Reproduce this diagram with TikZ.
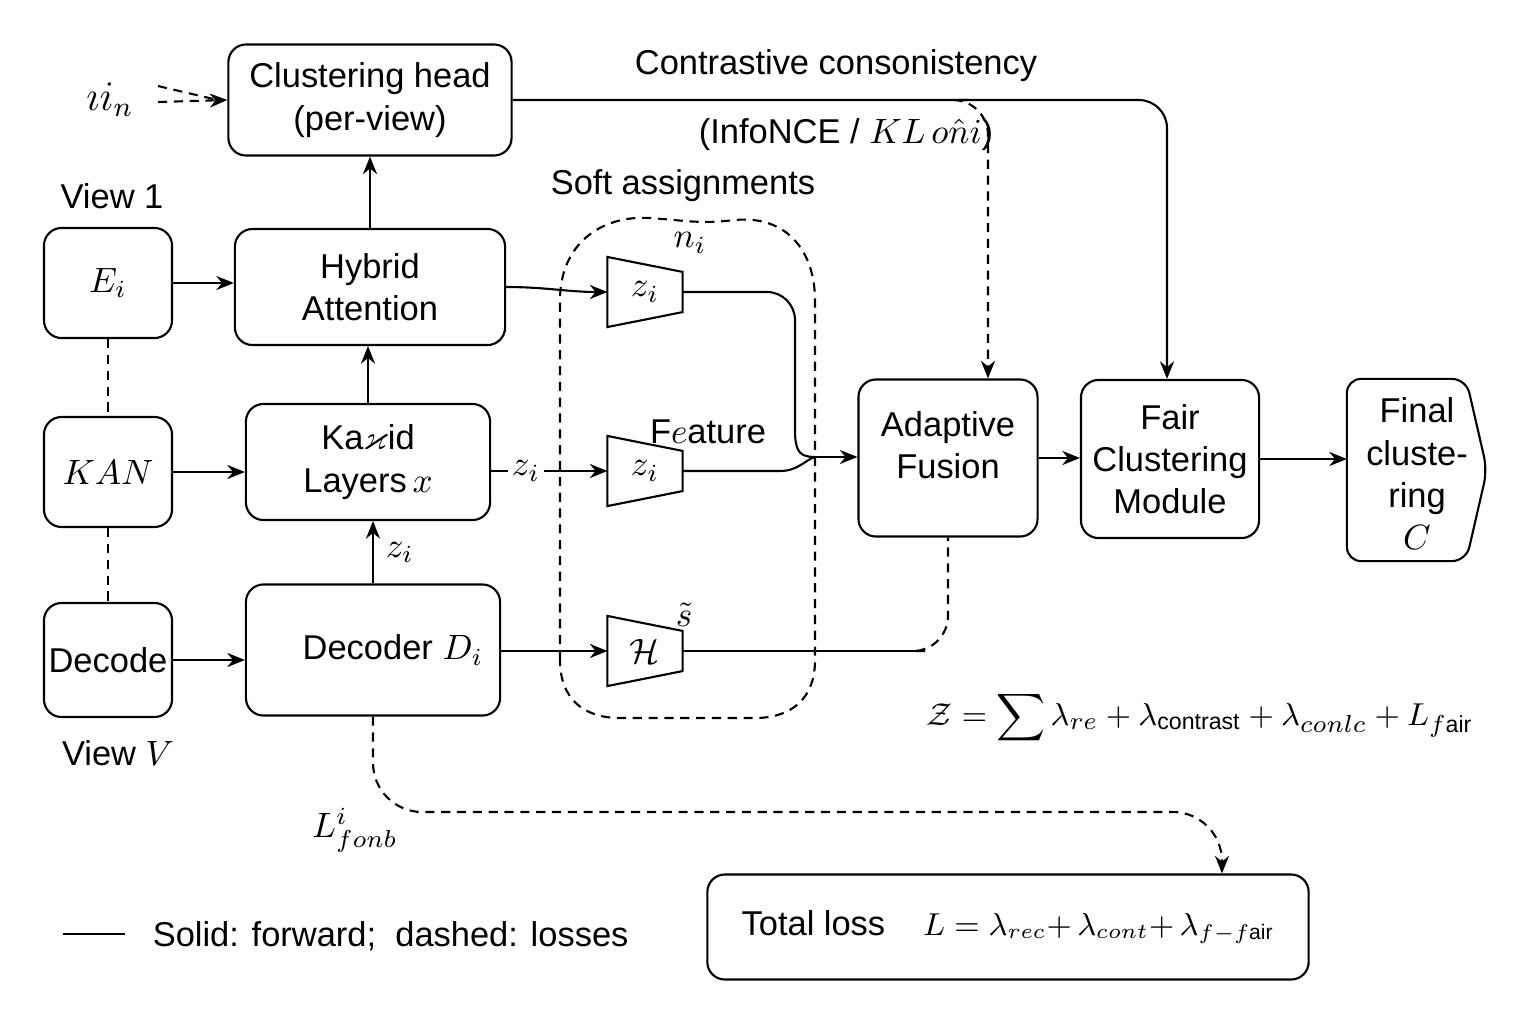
\documentclass[tikz,border=0pt]{standalone}
\usepackage{amsmath}
\usepackage{amssymb}
\usepackage{fontspec}
\setmainfont{Liberation Sans}
\usepackage{tikz}
\usetikzlibrary{calc}
\usetikzlibrary{arrows.meta}

\begin{document}
\begin{tikzpicture}[x=0.01cm, y=-0.01cm, color=black, line width=0.6pt, font=\fontsize{9.8}{12}\selectfont,
		blk/.style={draw, rounded corners=5pt, align=center, inner sep=0pt},
		fwd/.style={-{Stealth[length=5pt,width=4pt]}},
		loss/.style={dash pattern=on 2.6pt off 1.9pt},
		lossarr/.style={loss, -{Stealth[length=5pt,width=4pt]}},
		trap/.style={minimum width=0.73cm, minimum height=0.68cm, inner sep=0pt}]
		\useasboundingbox (0,0) rectangle (1536,1024);
		
		\node[blk, minimum width=2.83cm, minimum height=1.11cm] (head) at (370,100) {Clustering head\\(per-view)};
		\node[blk, minimum width=2.70cm, minimum height=1.16cm] (hyb) at (370,287) {Hybrid\\Attention};
		\node[blk, minimum width=2.44cm, minimum height=1.16cm] (kan) at (368,462) {Ka$\varkappa$id\\Layers\,$x$};
		\node[blk, minimum width=2.54cm, minimum height=1.31cm] (dec) at (373,650) {\hspace*{0.4cm}Decoder $D_i$};
		\node[blk, minimum width=1.28cm, minimum height=1.10cm] (enc) at (108,283) {$E_i$};
		\node[blk, minimum width=1.28cm, minimum height=1.10cm] (kanin) at (108,472) {$KAN$};
		\node[blk, minimum width=1.28cm, minimum height=1.14cm] (decin) at (108,660) {Decode};
		\node (v1) at (112,196) {View 1};
		\node (vv) at (118,753) {View $V$};
		\node (in) at (110,100) {\large$\imath i_n$};
		
		\node[blk, minimum width=1.79cm, minimum height=1.57cm] (fus) at (948,458) {Adaptive\\Fusion\\[-4.6pt]\mbox{}};
		\node[blk, minimum width=1.78cm, minimum height=1.58cm] (fair) at (1170,459) {Fair\\Clustering\\Module};
		\node[minimum width=1.38cm, minimum height=1.80cm, inner sep=0pt, align=center] (final) at (1417,470) {\\[-0.1cm]Final\\cluste-\\ring\\$C$};
		\draw[rounded corners=4pt] ($(final.north east)+(-21,0)$) -- (final.north west) -- (final.south west) -- ($(final.south east)+(-21,0)$) -- (final.east) -- cycle;
		
		\foreach \n/\y/\lab in {t1/292/z_i, t2/471/z_i, t3/651/\mathcal{H}}{
			\node[trap] (\n) at (645,\y) {$\lab$};
			\draw (\n.north west) -- ($(\n.north east)+(0,15)$) -- ($(\n.south east)+(0,-15)$) -- (\n.south west) -- cycle;
		}
		
		\draw[loss] (560,660) -- (560,300) .. controls (560,245) and (600,215) .. (650,218) .. controls (690,221) and (700,224) .. (735,220) .. controls (790,215) and (815,255) .. (815,300) -- (815,660) .. controls (815,700) and (790,718) .. (755,718) -- (620,718) .. controls (585,718) and (560,700) .. (560,660);
		
		\node (soft) at (683,186) {Soft assignments};
		\node (ni) at (690,243) {$n_i$};
		\node (feat) at (708,432) {F$e$ature};
		\node (stil) at (684,615) {$\tilde{s}$};
		\node (contr) at (836,66) {Contrastive consonistency};
		\node (info) at (846,135) {(InfoNCE / $KL\,o\hat{n}i$)};
		\node (ztot) at (1200,718) {\fontsize{9.4}{11}\selectfont$\mathcal{Z} = \displaystyle\sum \lambda_{re} + \lambda_{\text{contrast}} + \lambda_{conlc} + L_{f\text{air}}$};
		\node (lf) at (355,830) {$L^{i}_{fon b}$};
		\node[blk, minimum width=6.01cm, minimum height=1.05cm] (total) at (1008,927) {Total loss\hspace{1.1em}{\fontsize{9}{11}\selectfont$L = \lambda_{rec}{+}\,\lambda_{cont}{+}\,\lambda_{f-f\text{air}}$}};
		
		\coordinate (legA) at (63,934);
		\coordinate (legB) at (125,934);
		\draw (legA) -- (legB);
		\node[anchor=west] (leg) at (140,936) {Solid: forward;\ \ dashed: losses};
		
		\draw[fwd] (enc.east) -- (enc.east -| hyb.west);
		\draw[fwd] (kanin.east) -- (kanin.east -| kan.west);
		\draw[fwd] (decin.east) -- (decin.east -| dec.west);
		\draw[fwd] (hyb) -- (head);
		\draw[fwd] (kan.north) -- (kan.north |- hyb.south);
		\draw[fwd] (dec.north) -- (dec.north |- kan.south) node[midway, right] {$z_i$};
		\draw[loss] (enc) -- (kanin);
		\draw[loss] (kanin) -- (decin);
		
		\draw[fwd] (hyb.east) to[out=0, in=180] (t1.west);
		\draw[fwd] (kan.east |- t2.west) -- (t2.west) node[pos=0.3, fill=white, inner sep=1pt] {$z_i$};
		\draw[fwd] (dec.east |- t3.west) -- (t3.west);
		
		\coordinate (merge) at (815,457);
		\draw[rounded corners=8pt] (t1.east) -| (795,430);
		\draw (795,430) .. controls (795,452) and (800,457) .. (merge);
		\draw (t2.east) -- (780,471) .. controls (798,471) and (805,460) .. (merge);
		\draw[fwd] (merge) -- (merge -| fus.west);
		\coordinate (t3end) at (925,651);
		\draw (t3.east) -- (t3end);
		\draw[loss, rounded corners=10pt] (t3end) -| (fus.south);
		
		\draw[fwd] (fus.east) -- (fus.east -| fair.west);
		\draw[fwd] (fair.east) -- (fair.east -| final.west);
		\draw[fwd, rounded corners=8pt] (head.east) -| ($(fair.north)+(-3,0)$);
		\coordinate (cbr) at (968,100);
		\draw[lossarr, rounded corners=10pt] (cbr) -| ($(fus.north)+(40,0)$);
		
		\coordinate (lbend) at (1222,812);
		\draw[lossarr, rounded corners=14pt] (dec.south) |- (lbend) -- (lbend |- total.north);
		
		\coordinate (inA) at (158,86);
		\coordinate (inB) at (158,102);
		\draw[loss] (inA) -- ($(head.west)+(-14,-1)$);
		\draw[lossarr] (inB) -- (head.west);
	\end{tikzpicture}
\end{document}
